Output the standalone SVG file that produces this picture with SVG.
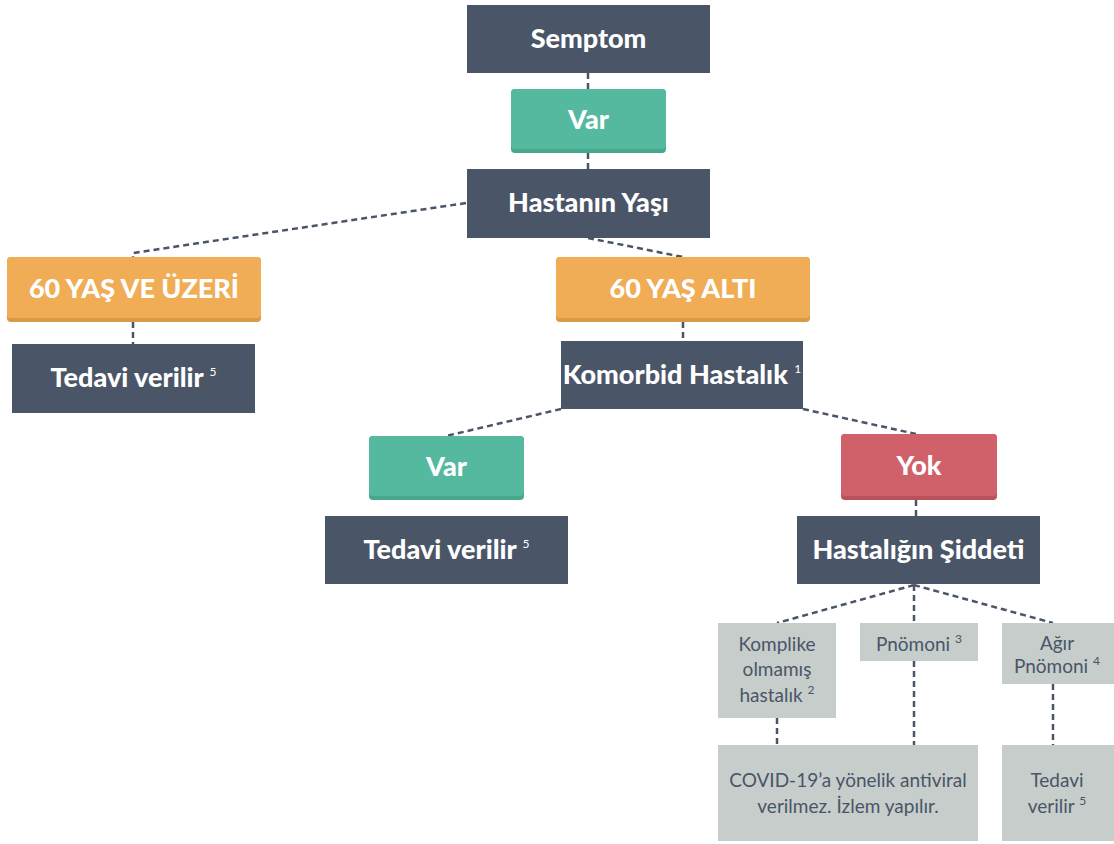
<svg xmlns="http://www.w3.org/2000/svg" width="1114" height="844" viewBox="0 0 1114 844">
<style>
.dark{fill:#4a5568}
.g1{fill:#55b99f}.g2{fill:#47a88d}
.o1{fill:#f0ad55}.o2{fill:#d99a48}
.r1{fill:#d0606a}.r2{fill:#b8515b}
.gray{fill:#c6cdca}
.t{font-family:Lato,"Open Sans",sans-serif;font-weight:900;font-size:27px;fill:#ffffff;text-anchor:middle}
.s{font-family:Lato,"Open Sans",sans-serif;font-weight:400;font-size:19px;fill:#4a5568;text-anchor:middle}
.sup{font-size:12px;font-weight:400}
.c line,.c path{stroke:#4a5568;stroke-width:2.5;stroke-dasharray:6 4;fill:none}
</style>
<g class="c" id="connectors">
<line x1="588" y1="73" x2="588" y2="89"/>
<line x1="588" y1="153" x2="588" y2="169"/>
<path d="M466 203 L133 253 L133 257"/>
<line x1="588" y1="238" x2="683" y2="257"/>
<line x1="133" y1="322" x2="133" y2="344"/>
<line x1="683" y1="322" x2="683" y2="341"/>
<line x1="561" y1="409" x2="446" y2="436"/>
<line x1="803" y1="409" x2="916" y2="434"/>
<line x1="916" y1="500" x2="916" y2="516"/>
<line x1="914" y1="585" x2="777" y2="623"/>
<line x1="914" y1="585" x2="914" y2="623"/>
<line x1="914" y1="585" x2="1053" y2="623"/>
<line x1="777" y1="718" x2="777" y2="745"/>
<line x1="914" y1="661" x2="914" y2="745"/>
<line x1="1053" y1="684" x2="1053" y2="745"/>
</g>
<g id="semptom"><rect class="dark" x="467" y="5" width="243" height="68"/><text class="t" x="588.5" y="48">Semptom</text></g>
<g id="var1"><rect class="g2" x="511" y="89" width="155" height="64" rx="4"/><rect class="g1" x="511" y="89" width="155" height="60" rx="4"/><text class="t" x="588.5" y="129">Var</text></g>
<g id="yas"><rect class="dark" x="467" y="169" width="243" height="69"/><text class="t" x="588.5" y="212">Hastanın Yaşı</text></g>
<g id="ustu"><rect class="o2" x="7" y="257" width="254" height="65" rx="4"/><rect class="o1" x="7" y="257" width="254" height="61" rx="4"/><text class="t" x="134" y="298">60 YAŞ VE ÜZERİ</text></g>
<g id="alti"><rect class="o2" x="556" y="257" width="254" height="65" rx="4"/><rect class="o1" x="556" y="257" width="254" height="61" rx="4"/><text class="t" x="683" y="298">60 YAŞ ALTI</text></g>
<g id="tedavi1"><rect class="dark" x="12" y="344" width="243" height="69"/><text class="t" x="133.5" y="387">Tedavi verilir <tspan class="sup" dy="-11">5</tspan></text></g>
<g id="komorbid"><rect class="dark" x="561" y="341" width="242" height="68"/><text class="t" x="682" y="384">Komorbid Hastalık <tspan class="sup" dy="-11">1</tspan></text></g>
<g id="var2"><rect class="g2" x="369" y="436" width="155" height="64" rx="4"/><rect class="g1" x="369" y="436" width="155" height="60" rx="4"/><text class="t" x="446.5" y="476">Var</text></g>
<g id="yok"><rect class="r2" x="841" y="434" width="156" height="66" rx="4"/><rect class="r1" x="841" y="434" width="156" height="62" rx="4"/><text class="t" x="919" y="475">Yok</text></g>
<g id="tedavi2"><rect class="dark" x="325" y="516" width="243" height="68"/><text class="t" x="446.5" y="559">Tedavi verilir <tspan class="sup" dy="-11">5</tspan></text></g>
<g id="siddet"><rect class="dark" x="797" y="516" width="243" height="68"/><text class="t" x="918.5" y="559">Hastalığın Şiddeti</text></g>
<g id="komplike"><rect class="gray" x="718" y="623" width="118" height="95"/><text class="s"><tspan x="777" y="651">Komplike</tspan><tspan x="777" y="676">olmamış</tspan><tspan x="777" y="702">hastalık <tspan class="sup" dy="-8">2</tspan></tspan></text></g>
<g id="pnomoni"><rect class="gray" x="860" y="623" width="118" height="38"/><text class="s" x="919" y="651">Pnömoni <tspan class="sup" dy="-8">3</tspan></text></g>
<g id="agir"><rect class="gray" x="1002" y="623" width="112" height="61"/><text class="s"><tspan x="1057" y="650">Ağır</tspan><tspan x="1057" y="673">Pnömoni <tspan class="sup" dy="-8">4</tspan></tspan></text></g>
<g id="covid"><rect class="gray" x="718" y="745" width="260" height="96"/><text class="s"><tspan x="848" y="787">COVID-19’a yönelik antiviral</tspan><tspan x="848" y="813">verilmez. İzlem yapılır.</tspan></text></g>
<g id="tedavi3"><rect class="gray" x="1002" y="745" width="112" height="96"/><text class="s"><tspan x="1057" y="787">Tedavi</tspan><tspan x="1057" y="813">verilir <tspan class="sup" dy="-8">5</tspan></tspan></text></g>
</svg>
